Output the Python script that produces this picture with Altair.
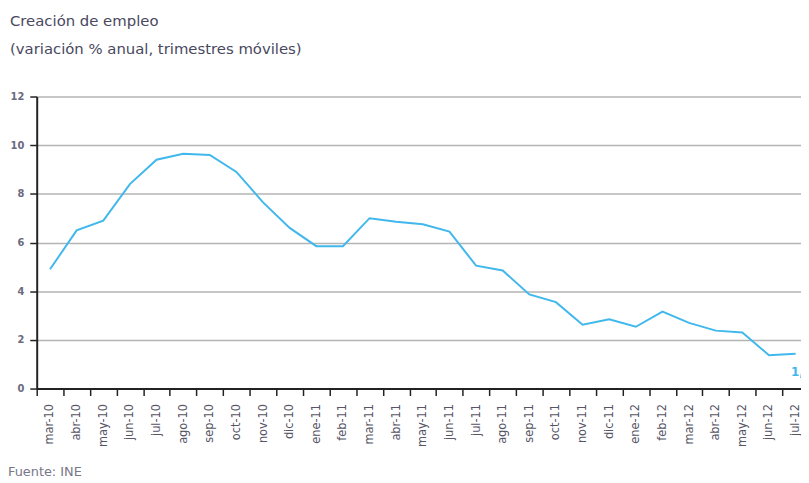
import altair as alt
import pandas as pd

months = ["mar-10", "abr-10", "may-10", "jun-10", "jul-10", "ago-10", "sep-10",
          "oct-10", "nov-10", "dic-10", "ene-11", "feb-11", "mar-11", "abr-11",
          "may-11", "jun-11", "jul-11", "ago-11", "sep-11", "oct-11", "nov-11",
          "dic-11", "ene-12", "feb-12", "mar-12", "abr-12", "may-12", "jun-12",
          "jul-12"]
values = [4.9, 6.5, 6.9, 8.4, 9.4, 9.65, 9.6, 8.9, 7.65, 6.6, 5.85, 5.85, 7.0,
          6.85, 6.75, 6.45, 5.05, 4.85, 3.87, 3.55, 2.62, 2.85, 2.54, 3.16, 2.7,
          2.38, 2.3, 1.37, 1.43]
last_label = "1,4"
y_ticks = [0, 2, 4, 6, 8, 10, 12]
title_line1 = "Creación de empleo"
title_line2 = "(variación % anual, trimestres móviles)"
source_text = "Fuente: INE"

df = pd.DataFrame({"mes": months, "valor": values})
df_last = df.tail(1).assign(etiqueta=last_label)

LINE_COLOR = "#40b8ec"
TEXT_COLOR = "#555566"
FONT = "DejaVu Sans"

x_enc = alt.X(
    "mes:N", sort=months,
    scale=alt.Scale(range=[0, 780], paddingInner=0, paddingOuter=0),
    axis=alt.Axis(title=None, labelAngle=270, tickBand="extent", tickSize=7,
                  tickColor="#222222", tickWidth=1.5, domainColor="#222222",
                  domainWidth=2, labelFont=FONT, labelFontSize=11.5,
                  labelColor=TEXT_COLOR, labelPadding=8, grid=False),
)
y_enc = alt.Y(
    "valor:Q",
    scale=alt.Scale(domain=[0, 12], nice=False),
    axis=alt.Axis(title=None, values=y_ticks, format="d", grid=True,
                  gridColor="#b4b4b4", gridWidth=1.5, tickSize=7,
                  tickColor="#222222", tickWidth=1.5, domainColor="#222222",
                  domainWidth=2, labelFont=FONT, labelFontSize=10,
                  labelFontWeight="bold", labelColor="#6a6a80", labelPadding=6),
)

line = alt.Chart(df).mark_line(color=LINE_COLOR, strokeWidth=2).encode(x=x_enc, y=y_enc)

label = alt.Chart(df_last).mark_text(
    color=LINE_COLOR, fontWeight="bold", fontSize=12, font=FONT, dy=18, dx=6
).encode(x=alt.X("mes:N", sort=months), y="valor:Q", text="etiqueta:N")

def free_text(txt, xv, yv, size, color):
    return alt.Chart(pd.DataFrame({"t": [txt]})).mark_text(
        align="left", baseline="middle", fontSize=size, font=FONT, color=color
    ).encode(text="t:N", x=alt.value(xv), y=alt.value(yv))

t1 = free_text(title_line1, -27, -76, 15, "#48485e")
t2 = free_text(title_line2, -27, -48, 15, "#48485e")
src = free_text(source_text, -29, 379, 13, "#777788")

chart = alt.layer(line, label, t1, t2, src).properties(
    width=772, height=295,
    autosize=alt.AutoSizeParams(type="none"),
    padding={"left": 29, "top": 87, "right": 0, "bottom": 93},
).configure_view(stroke=None)

chart.save("out.html", embed_options={"renderer": "svg", "actions": False})
